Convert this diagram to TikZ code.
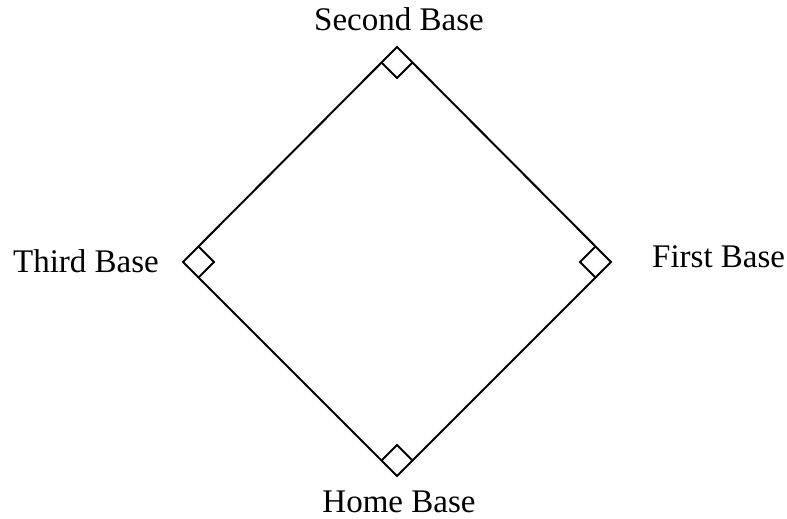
\documentclass[tikz,border=0pt]{standalone}
\usepackage{fontspec}
\setmainfont{Liberation Serif}
\usepackage{tikz}
\usetikzlibrary{calc}

\begin{document}
\begin{tikzpicture}[
  x=1pt,y=-1pt,
  font=\fontsize{33}{38}\selectfont,
  field/.style={line width=2pt,line join=miter},
  rmark/.style={line width=2pt},
  lbl/.style={inner sep=0pt,anchor=base}]

\useasboundingbox (0,0) rectangle (787,519);

% ---- bases ------------------------------------------------------------
\coordinate (second) at (397,47);
\coordinate (first)  at (611,262);
\coordinate (home)   at (397,476);
\coordinate (third)  at (183,262);

% ---- labels -----------------------------------------------------------
\node[lbl] (lsecond) at (399,31) {Second Base};
\node[lbl,anchor=base east] (lthird) at (159,272) {Third Base};
\node[lbl,anchor=base west] (lfirst) at (652,267) {First Base};
\node[lbl] (lhome) at (399,512) {Home Base};

% ---- diamond ----------------------------------------------------------
\draw[field] (second) -- (first) -- (home) -- (third) -- cycle;

% ---- right angle marks ------------------------------------------------
\draw[rmark] ($(second)+(-15.5,15.5)$) -- ++(15.5,15.5) -- ++(15.5,-15.5);
\draw[rmark] ($(first)+(-15.5,-15.5)$) -- ++(-15.5,15.5) -- ++(15.5,15.5);
\draw[rmark] ($(home)+(-15.5,-15.5)$) -- ++(15.5,-15.5) -- ++(15.5,15.5);
\draw[rmark] ($(third)+(15.5,-15.5)$) -- ++(15.5,15.5) -- ++(-15.5,15.5);
\end{tikzpicture}
\end{document}
